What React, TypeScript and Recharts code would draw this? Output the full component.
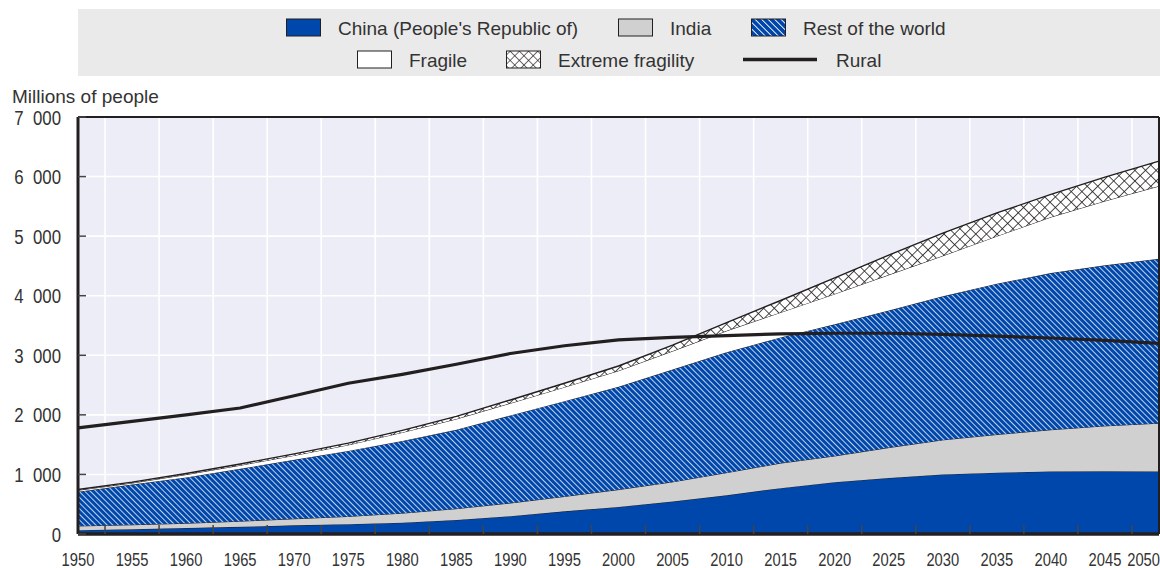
import React from "react";
import {
  ComposedChart,
  Area,
  Line,
  XAxis,
  YAxis,
  CartesianGrid,
  ReferenceLine,
} from "recharts";

const years = [1950, 1955, 1960, 1965, 1970, 1975, 1980, 1985, 1990, 1995, 2000, 2005, 2010, 2015, 2020, 2025, 2030, 2035, 2040, 2045, 2050];
const china = [65, 80, 100, 120, 145, 165, 190, 235, 300, 380, 455, 545, 650, 770, 870, 940, 1000, 1030, 1050, 1055, 1050];
const india = [70, 75, 80, 95, 110, 130, 160, 190, 220, 250, 290, 330, 380, 420, 440, 510, 580, 640, 700, 760, 810];
const restOfWorld = [575, 675, 770, 880, 990, 1100, 1210, 1325, 1470, 1600, 1725, 1885, 2020, 2110, 2210, 2300, 2410, 2530, 2630, 2695, 2760];
const fragile = [24, 25, 47, 58, 74, 100, 145, 180, 205, 235, 270, 310, 360, 420, 510, 600, 680, 800, 940, 1080, 1220];
const extreme = [12, 15, 18, 22, 26, 30, 35, 45, 55, 65, 80, 100, 140, 200, 270, 330, 380, 390, 380, 400, 420];
const rural = [1780, 1890, 2000, 2115, 2320, 2530, 2680, 2850, 3030, 3160, 3260, 3300, 3330, 3360, 3370, 3370, 3350, 3320, 3290, 3250, 3200];

const yTicks = [0, 1000, 2000, 3000, 4000, 5000, 6000, 7000];
const gridYears = years.slice(0, -1).map((y) => y + 2.5);

const data = years.map((year, i) => ({
  year,
  china: china[i],
  india: india[i],
  rest: restOfWorld[i],
  fragile: fragile[i],
  extreme: extreme[i],
  rural: rural[i],
}));

const W = 1160;
const H = 568;
const PLOT_LEFT = 78;
const PLOT_RIGHT = 1159;
const PLOT_BOTTOM = 534;
const INK = "#231f20";
const TXT = "#333333";
const BLUE = "#0047ab";
const GREY = "#d0d0d0";
const FONT = "'Liberation Sans', Arial, sans-serif";
const NARROW = 0.82; // fake "Arial Narrow" by squeezing Liberation Sans

const fmt = (v: number) =>
  v >= 1000 ? `${Math.floor(v / 1000)}\u2007${String(v % 1000).padStart(3, "0")}` : String(v);

const xScale = (yr: number) =>
  PLOT_LEFT + ((yr - years[0]) / (years[years.length - 1] - years[0])) * (PLOT_RIGHT - PLOT_LEFT);

function XTick(props: any) {
  const { x, payload } = props;
  const v = payload.value as number;
  const last = v === years[years.length - 1];
  const tx = last ? W : x;
  return (
    <g>
      {!last && (
        <line
          x1={xScale(v + 2.5)}
          x2={xScale(v + 2.5)}
          y1={PLOT_BOTTOM - 9}
          y2={PLOT_BOTTOM}
          stroke="#444"
          strokeWidth={1.5}
        />
      )}
      <text
        transform={`translate(${tx} 565.5) scale(${NARROW} 1)`}
        textAnchor={last ? "end" : "middle"}
        fontFamily={FONT}
        fontSize={18}
        fill={TXT}
      >
        {v}
      </text>
    </g>
  );
}

function YTick(props: any) {
  const { y, payload } = props;
  const v = payload.value as number;
  return (
    <g>
      <line x1={PLOT_LEFT} x2={PLOT_LEFT + 8} y1={y} y2={y} stroke="#444" strokeWidth={1.5} />
      <text
        transform={`translate(61 ${y + 7.5}) scale(${NARROW} 1)`}
        textAnchor="end"
        fontFamily={FONT}
        fontSize={20.5}
        fill={TXT}
      >
        {fmt(v)}
      </text>
    </g>
  );
}

const legendItems = [
  { kind: "china", label: "China (People's Republic of)", x: 286, row: 0 },
  { kind: "india", label: "India", x: 618, row: 0 },
  { kind: "rest", label: "Rest of the world", x: 751, row: 0 },
  { kind: "fragile", label: "Fragile", x: 357, row: 1 },
  { kind: "extreme", label: "Extreme fragility", x: 506, row: 1 },
  { kind: "line", label: "Rural", x: 743, row: 1 },
];

const swatchFill: Record<string, string> = {
  china: BLUE,
  india: GREY,
  rest: "url(#lgHatch)",
  fragile: "#ffffff",
  extreme: "url(#lgCross)",
};

function TopLayer() {
  return (
    <svg
      width={W}
      height={110}
      style={{ position: "absolute", left: 0, top: 0, pointerEvents: "none" }}
    >
      <defs>
        <pattern id="lgHatch" width="4.6" height="4.6" patternUnits="userSpaceOnUse" patternTransform="rotate(-45)">
          <rect width="4.6" height="4.6" fill={BLUE} />
          <line x1="0" y1="0" x2="0" y2="4.6" stroke="#fff" strokeWidth="1.8" />
        </pattern>
        <pattern id="lgCross" width="6.5" height="6.5" patternUnits="userSpaceOnUse" patternTransform="rotate(45)">
          <rect width="6.5" height="6.5" fill="#fff" />
          <line x1="0" y1="0" x2="0" y2="6.5" stroke={INK} strokeWidth="1.3" />
          <line x1="0" y1="0" x2="6.5" y2="0" stroke={INK} strokeWidth="1.3" />
        </pattern>
      </defs>
      <rect x={PLOT_LEFT} y={9} width={W - PLOT_LEFT} height={67} fill="#eaeaea" />
      {legendItems.map((it) => {
        const cy = it.row === 0 ? 27.5 : 59.5;
        return (
          <g key={it.label}>
            {it.kind === "line" ? (
              <line x1={it.x} x2={it.x + 74} y1={cy} y2={cy} stroke={INK} strokeWidth={3.5} />
            ) : (
              <rect
                x={it.x + 0.5}
                y={cy - 8.5}
                width={34}
                height={17}
                fill={swatchFill[it.kind]}
                stroke={INK}
                strokeWidth={1}
              />
            )}
            <text
              x={it.kind === "line" ? it.x + 93 : it.x + 52}
              y={cy + 7}
              fontFamily={FONT}
              fontSize={19}
              fill={TXT}
            >
              {it.label}
            </text>
          </g>
        );
      })}
      <text x={12} y={102.5} fontFamily={FONT} fontSize={19} fill={TXT}>
        Millions of people
      </text>
    </svg>
  );
}

export default function App() {
  return (
    <div style={{ position: "relative", width: W, height: H, background: "#fff" }}>
      <style>{`body{margin:0}`}</style>
      <ComposedChart
        width={W}
        height={H}
        data={data}
        margin={{ top: 117, right: W - PLOT_RIGHT, bottom: 0, left: 0 }}
        style={{ position: "absolute", left: 0, top: 0 }}
      >
        <defs>
          <pattern id="hatchBlue" width="4" height="4" patternUnits="userSpaceOnUse" patternTransform="rotate(-45)">
            <rect width="4" height="4" fill={BLUE} />
            <line x1="0" y1="0" x2="0" y2="4" stroke="#fff" strokeWidth="1.5" />
          </pattern>
          <pattern id="crossHatch" width="7.5" height="7.5" patternUnits="userSpaceOnUse" patternTransform="rotate(45)">
            <rect width="7.5" height="7.5" fill="#fff" />
            <line x1="0" y1="0" x2="0" y2="7.5" stroke={INK} strokeWidth="1.6" />
            <line x1="0" y1="0" x2="7.5" y2="0" stroke={INK} strokeWidth="1.6" />
          </pattern>
        </defs>
        <CartesianGrid
          fill="#ededf7"
          stroke="#ffffff"
          strokeWidth={1.6}
          verticalCoordinatesGenerator={() => gridYears.map(xScale)}
        />
        <XAxis
          dataKey="year"
          type="number"
          domain={[1950, 2050]}
          ticks={years}
          interval={0}
          height={H - PLOT_BOTTOM}
          tickLine={false}
          axisLine={false}
          tick={<XTick />}
        />
        <YAxis
          type="number"
          domain={[0, 7000]}
          ticks={yTicks}
          interval={0}
          width={PLOT_LEFT}
          tickLine={false}
          axisLine={false}
          tick={<YTick />}
        />
        <Area type="linear" dataKey="china" stackId="u" fill={BLUE} fillOpacity={1} stroke={INK} strokeWidth={1} isAnimationActive={false} />
        <Area type="linear" dataKey="india" stackId="u" fill={GREY} fillOpacity={1} stroke={INK} strokeWidth={1} isAnimationActive={false} />
        <Area type="linear" dataKey="rest" stackId="u" fill="url(#hatchBlue)" fillOpacity={1} stroke={INK} strokeWidth={1} isAnimationActive={false} />
        <Area type="linear" dataKey="fragile" stackId="u" fill="#ffffff" fillOpacity={1} stroke={INK} strokeWidth={1} isAnimationActive={false} />
        <Area type="linear" dataKey="extreme" stackId="u" fill="url(#crossHatch)" fillOpacity={1} stroke={INK} strokeWidth={1.4} isAnimationActive={false} />
        <Line type="linear" dataKey="rural" stroke={INK} strokeWidth={3.2} dot={false} activeDot={false} isAnimationActive={false} />
        <ReferenceLine y={7000} stroke={INK} strokeWidth={2} />
        <ReferenceLine x={2050} stroke={INK} strokeWidth={2} />
        <ReferenceLine x={1950} stroke={INK} strokeWidth={3} />
        <ReferenceLine y={0} stroke={INK} strokeWidth={3.5} />
      </ComposedChart>
      <TopLayer />
    </div>
  );
}
